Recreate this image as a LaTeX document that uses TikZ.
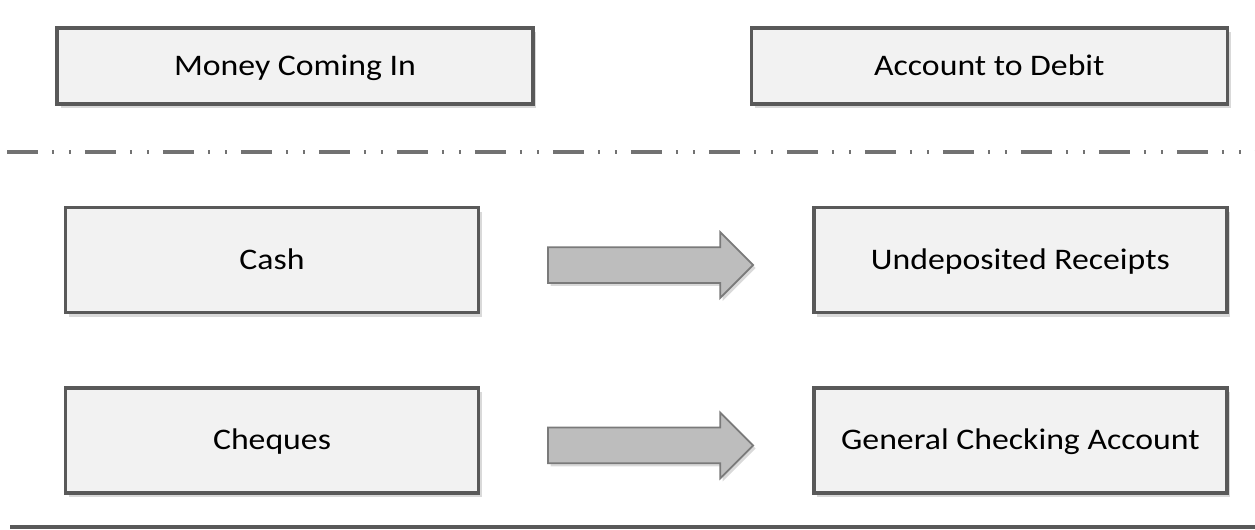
\documentclass[tikz,border=0pt]{standalone}
\usepackage{fontspec}
\setmainfont{Carlito}[FakeStretch=1.13]
\usetikzlibrary{positioning, shadows, shapes.arrows}

\definecolor{boxfill}{HTML}{F2F2F2}
\definecolor{boxline}{HTML}{595959}
\definecolor{arrowfill}{HTML}{BDBDBD}
\definecolor{arrowline}{HTML}{7A7A7A}

\tikzset{
  headbox/.style={draw=boxline, line width=2pt, fill=boxfill,
    minimum width=9.52cm, minimum height=1.52cm,
    text height=1.38ex+0.14cm, text depth=0pt,
    drop shadow={shadow xshift=0.07cm, shadow yshift=-0.08cm, opacity=0.3},
    font=\fontsize{17}{20}\selectfont},
  itembox/.style={headbox, minimum width=8.26cm, minimum height=2.1cm},
  fatarrow/.style={single arrow, draw=arrowline, fill=arrowfill, line width=1pt,
    minimum height=4.1cm, inner xsep=0pt, inner ysep=0.34cm,
    text height=0pt, text depth=0pt,
    single arrow head extend=0.3cm,
    drop shadow={shadow xshift=0.05cm, shadow yshift=-0.06cm, opacity=0.3}},
}

\begin{document}
\begin{tikzpicture}[x=0.02cm, y=-0.02cm]
  \useasboundingbox (0,0) rectangle (1255,529);

  % column headings
  \node[headbox] (money) at (295,66) {Money Coming In};
  \node[headbox, right=4.3cm of money] (debit) {Account to Debit};

  % dash-dot separator
  \coordinate (sepl) at (7,152);
  \coordinate (sepr) at (1255,152);
  \draw[boxline!85, line width=1.8pt,
    dash pattern=on 0.62cm off 0.28cm on 0.04cm off 0.3cm on 0.04cm off 0.28cm]
    (sepl) -- (sepr);

  % money in -> account
  \node[itembox] (cash) at (272,260) {Cash};
  \node[itembox, right=6.64cm of cash] (undep) {Undeposited Receipts};
  \node[itembox, below=1.44cm of cash] (cheques) {Cheques};
  \node[itembox, right=6.64cm of cheques] (checking) {General Checking Account};

  \node[fatarrow, right=1.34cm of cash, yshift=-0.1cm] (arr1) {};
  \node[fatarrow, right=1.34cm of cheques, yshift=-0.1cm] (arr2) {};

  % bottom rule
  \coordinate (botl) at (10,527);
  \coordinate (botr) at (1255,527);
  \draw[boxline, line width=1.8pt] (botl) -- (botr);
\end{tikzpicture}
\end{document}
